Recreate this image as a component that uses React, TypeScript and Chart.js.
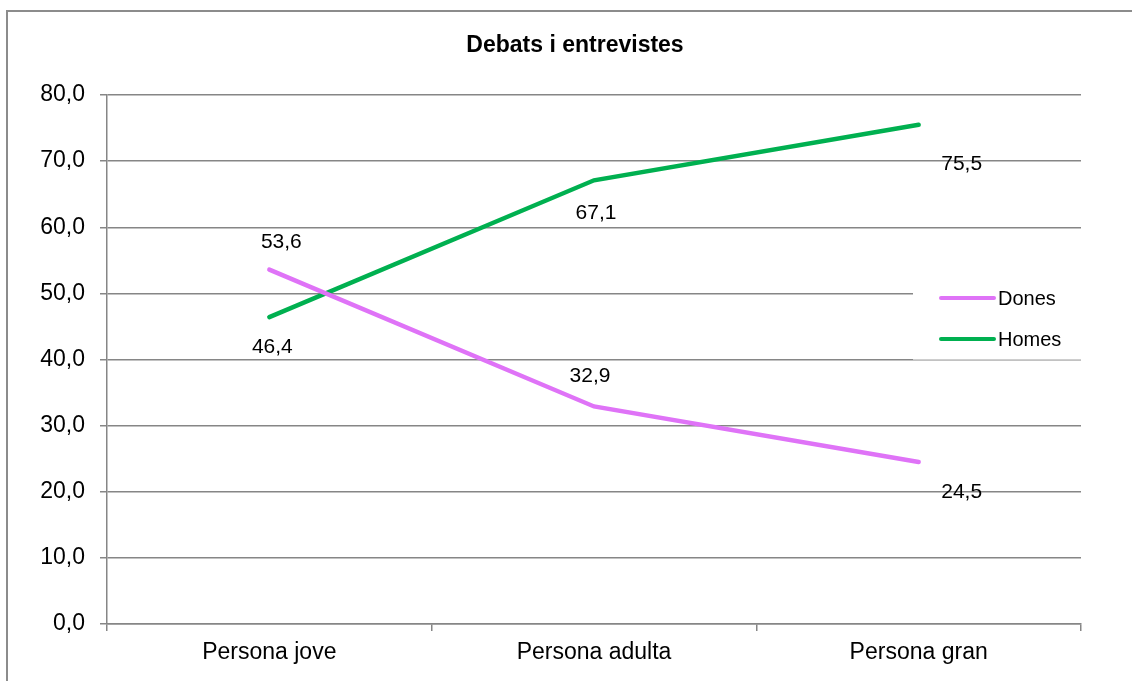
import React, { useEffect, useRef } from "react";
import { Chart, registerables } from "chart.js";

Chart.register(...registerables);

const chartTitle = "Debats i entrevistes";
const categories = ["Persona jove", "Persona adulta", "Persona gran"];
const seriesNames = ["Dones", "Homes"];
const donesValues = [53.6, 32.9, 24.5];
const homesValues = [46.4, 67.1, 75.5];
const yMin = 0;
const yMax = 80;
const yStep = 10;

const FONT = "'Liberation Sans', Arial, Helvetica, sans-serif";
const DONES_COLOR = "#df73f7";
const HOMES_COLOR = "#00b050";
const GRID_COLOR = "#868686";

// label offsets (dx, dy) relative to each point, per dataset
const labelOffsets = [
  [[12, -27], [-4, -30], [43, 30]],
  [[3, 30], [2, 33], [43, 39]],
];

const fmt = (v: number) => v.toFixed(1).replace(".", ",");

const decorPlugin = {
  id: "decor",
  beforeDraw(chart: any) {
    const ctx = chart.ctx;
    ctx.save();
    ctx.fillStyle = "#ffffff";
    ctx.fillRect(0, 0, chart.width, chart.height);
    ctx.restore();
  },
  afterDatasetsDraw(chart: any) {
    const ctx = chart.ctx;
    ctx.save();
    // outer border
    ctx.strokeStyle = "#8c8c8c";
    ctx.lineWidth = 2;
    ctx.strokeRect(7, 11, chart.width + 20, chart.height + 20);
    // title
    ctx.fillStyle = "#000";
    ctx.font = `bold 23px ${FONT}`;
    ctx.textAlign = "center";
    ctx.textBaseline = "middle";
    ctx.fillText(chartTitle, 575, 46);

    // legend
    ctx.fillStyle = "#ffffff";
    ctx.fillRect(913, 280, 170, 79);
    ctx.fillStyle = "rgba(255,255,255,0.6)";
    ctx.fillRect(913, 359, 170, 1);
    const legendY = [298, 339];
    chart.data.datasets.forEach((ds: any, i: number) => {
      ctx.strokeStyle = ds.borderColor;
      ctx.lineWidth = 4;
      ctx.lineCap = "round";
      ctx.beginPath();
      ctx.moveTo(941, legendY[i]);
      ctx.lineTo(994, legendY[i]);
      ctx.stroke();
      ctx.fillStyle = "#000";
      ctx.font = `20px ${FONT}`;
      ctx.textAlign = "left";
      ctx.textBaseline = "middle";
      ctx.fillText(ds.label, 998, legendY[i] + 1);
    });

    // data labels
    ctx.font = `21px ${FONT}`;
    ctx.textAlign = "center";
    ctx.textBaseline = "middle";
    ctx.fillStyle = "#000";
    chart.data.datasets.forEach((ds: any, di: number) => {
      const meta = chart.getDatasetMeta(di);
      meta.data.forEach((pt: any, i: number) => {
        const off = labelOffsets[di][i];
        ctx.fillText(fmt(ds.data[i]), pt.x + off[0], pt.y + off[1]);
      });
    });
    ctx.restore();
  },
};

export default function App() {
  const canvasRef = useRef<HTMLCanvasElement | null>(null);

  useEffect(() => {
    if (!canvasRef.current) return;
    const chart = new Chart(canvasRef.current, {
      type: "line",
      data: {
        labels: categories,
        datasets: [
          {
            label: seriesNames[0],
            data: donesValues,
            borderColor: DONES_COLOR,
            backgroundColor: DONES_COLOR,
            borderWidth: 4.5,
            pointRadius: 0,
            tension: 0,
            borderCapStyle: "round",
          },
          {
            label: seriesNames[1],
            data: homesValues,
            borderColor: HOMES_COLOR,
            backgroundColor: HOMES_COLOR,
            borderWidth: 4.5,
            pointRadius: 0,
            tension: 0,
            borderCapStyle: "round",
          },
        ],
      },
      options: {
        animation: false,
        responsive: false,
        devicePixelRatio: 1,
        layout: { padding: { left: 0, right: 51, top: 95, bottom: 0 } },
        plugins: {
          legend: { display: false },
          title: { display: false },
          tooltip: { enabled: false },
        },
        scales: {
          x: {
            offset: true,
            grid: {
              offset: true,
              drawOnChartArea: false,
              drawTicks: true,
              tickLength: 7,
              color: GRID_COLOR,
              lineWidth: 1.5,
            },
            border: { display: true, color: GRID_COLOR, width: 1.5 },
            ticks: {
              color: "#000",
              font: { family: FONT, size: 23 },
              padding: 8,
              maxRotation: 0,
            },
            afterFit: (scale: any) => {
              scale.height = 57;
            },
          },
          y: {
            min: yMin,
            max: yMax,
            grid: {
              color: GRID_COLOR,
              lineWidth: 1.5,
              tickLength: 7,
              drawTicks: true,
            },
            border: { display: true, color: GRID_COLOR, width: 1.5 },
            ticks: {
              stepSize: yStep,
              color: "#000",
              font: { family: FONT, size: 23 },
              padding: 15,
              callback: (v: any) => fmt(Number(v)),
            },
            afterFit: (scale: any) => {
              scale.width = 107;
            },
          },
        },
      },
      plugins: [decorPlugin],
    });
    return () => chart.destroy();
  }, []);

  return (
    <div style={{ position: "fixed", left: 0, top: 0, width: 1132, height: 681 }}>
      <canvas ref={canvasRef} width={1132} height={681} style={{ display: "block" }} />
    </div>
  );
}
